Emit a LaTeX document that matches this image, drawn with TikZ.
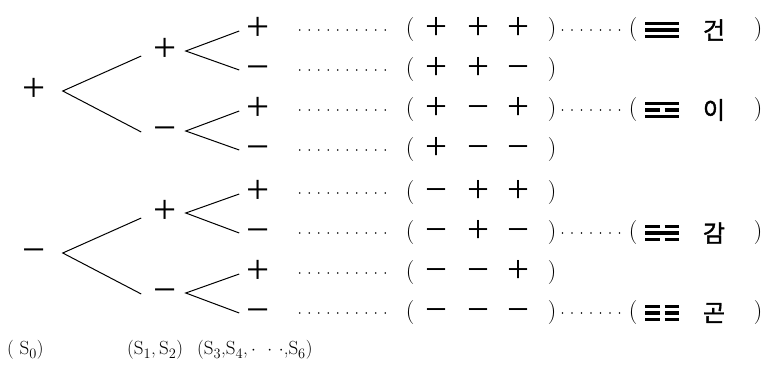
\documentclass[tikz,border=0pt]{standalone}
\usepackage{fontspec}
\newfontfamily\kfont[FakeBold=1.5]{Noto Sans CJK KR}
\newfontfamily\signfont{Liberation Serif}
\newcommand{\sg}[1]{\smash{\raisebox{-0.253em}{#1}}}
\newcommand{\drawgua}[5]{%
  \foreach \k/\v in {-6.5/#3,0/#4,6.5/#5}{%
    \ifnum\v=1
      \draw[yao] ({#1-17},{#2+\k}) -- ({#1+17},{#2+\k});
    \else
      \draw[yao] ({#1-17},{#2+\k}) -- ({#1-2.5},{#2+\k});
      \draw[yao] ({#1+2.5},{#2+\k}) -- ({#1+17},{#2+\k});
    \fi
  }%
}
\tikzset{
  sign/.style={inner sep=0pt, font=\signfont\fontsize{41}{45}\selectfont},
  tsign/.style={inner sep=0pt, font=\signfont\fontsize{39}{43}\selectfont},
  branch/.style={line width=1pt},
  leader/.style={line width=1.6pt, line cap=round, dash pattern=on 0pt off 9.5pt},
  paren/.style={inner sep=0pt, font=\fontsize{24}{28}\selectfont},
  kor/.style={inner sep=0pt, font=\kfont\fontsize{24}{28}\selectfont},
  lab/.style={inner sep=0pt, anchor=west, font=\fontsize{19}{23}\selectfont},
  yao/.style={line width=3.2pt}
}
\begin{document}
\begin{tikzpicture}[x=1pt,y=-1pt]
\useasboundingbox (0,0) rectangle (770,367);
% top tree
\node[sign] (r1) at (34,91) {\sg{+}};
\node[sign] (a1) at (165,51) {\sg{+}};
\node[sign] (a2) at (165,131) {\sg{−}};
\node[sign] (l1) at (258,30) {\sg{+}};
\node[sign] (l2) at (258,70) {\sg{−}};
\node[sign] (l3) at (258,110) {\sg{+}};
\node[sign] (l4) at (258,150) {\sg{−}};
% bottom tree
\node[sign] (r2) at (34,253) {\sg{−}};
\node[sign] (a3) at (165,213) {\sg{+}};
\node[sign] (a4) at (165,293) {\sg{−}};
\node[sign] (l5) at (258,193) {\sg{+}};
\node[sign] (l6) at (258,233) {\sg{−}};
\node[sign] (l7) at (258,273) {\sg{+}};
\node[sign] (l8) at (258,313) {\sg{−}};
% branches
\foreach \r/\u/\d in {r1/a1/a2, r2/a3/a4}{
  \coordinate (\r v) at ([xshift=17pt]\r.east);
  \draw[branch] ([xshift=-12pt,yshift=-5pt]\u.west) -- (\r v) -- ([xshift=-12pt,yshift=-1pt]\d.west);
}
\foreach \m/\u/\d in {a1/l1/l2, a2/l3/l4, a3/l5/l6, a4/l7/l8}{
  \coordinate (\m v) at ([xshift=9pt]\m.east);
  \draw[branch] ([xshift=-7pt,yshift=-1pt]\u.west) -- (\m v) -- ([xshift=-7pt]\d.west);
}
% tuples
\foreach \i/\y/\sa/\sb/\sc in {1/30/+/+/+, 2/70/+/+/−, 3/110/+/−/+, 4/150/+/−/−, 5/193/−/+/+, 6/233/−/+/−, 7/273/−/−/+, 8/313/−/−/−}{
  \node[paren] (p\i) at (410,\y) {(};
  \node[tsign] (x\i) at (436,\y) {\sg{\sa}};
  \node[tsign] (y\i) at (478,\y) {\sg{\sb}};
  \node[tsign] (z\i) at (518,\y) {\sg{\sc}};
  \node[paren] (q\i) at (552,\y) {)};
  \draw[leader, shorten <=30pt, shorten >=12pt] (l\i.east) -- (p\i.west);
}
% trigram names
\foreach \i/\y/\ta/\tb/\tc/\nm in {1/30/1/1/1/건, 3/110/1/0/1/이, 6/233/0/1/0/감, 8/313/0/0/0/곤}{
  \node[paren] (u\i) at (633,\y) {(};
  \node[kor] (k\i) at (714,\y) {\nm};
  \node[paren] (v\i) at (758,\y) {)};
  \draw[leader, shorten <=6pt, shorten >=4pt] (q\i.east) -- (u\i.west);
  \drawgua{662}{\y}{\ta}{\tb}{\tc}
}
% bottom labels
\node[lab] (s0) at (7,350) {( S$_0$)};
\node[lab] (s12) at (127,350) {(S$_1$,\,S$_2$)};
\node[lab] (s36) at (197,350) {(S$_3$,S$_4$,\,$\cdot\;\,\cdot\,\cdot$,S$_6$)};
\end{tikzpicture}
\end{document}
